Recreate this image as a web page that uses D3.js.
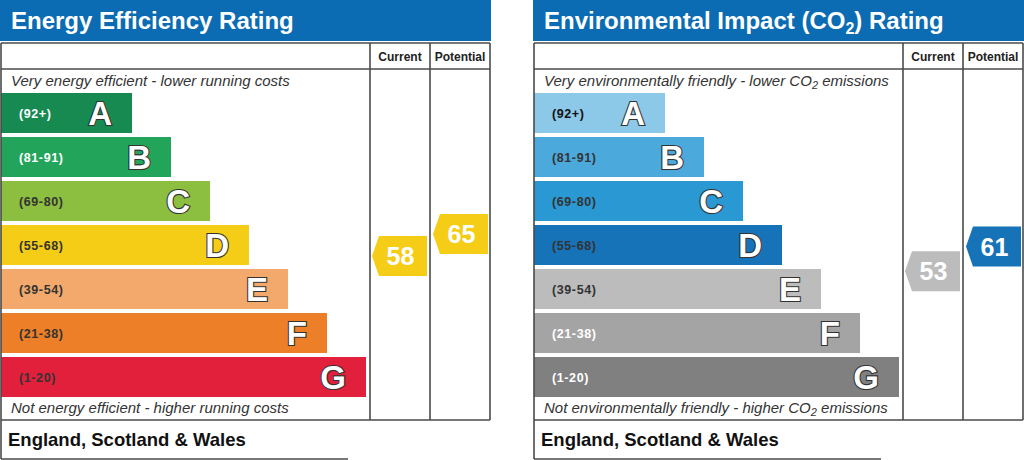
<!DOCTYPE html>
<html>
<head>
<meta charset="utf-8">
<script src="https://cdn.jsdelivr.net/npm/d3@7"></script>
<style>
  body { margin: 0; background: #fff; }
  svg { display: block; font-family: "Liberation Sans", Arial, sans-serif; }
</style>
</head>
<body>
<div id="container"></div>
<script>
// rating bands, top to bottom
const bandLetters = ["A", "B", "C", "D", "E", "F", "G"];
const bandRanges = ["(92+)", "(81-91)", "(69-80)", "(55-68)", "(39-54)", "(21-38)", "(1-20)"];
const bandMin = [92, 81, 69, 55, 39, 21, 1];
const bandTop = 100;

// the two ratings shown in each chart
const energyRatings = [58, 65];   // current, potential
const co2Ratings = [53, 61];      // current, potential
const columnNames = ["Current", "Potential"];

const energyColors = ["#168a51", "#22a55a", "#8cbe3f", "#f5cd17", "#f2a96b", "#ec7f28", "#e2203c"];
const energyLabelColors = ["#fff", "#fff", "#333", "#333", "#333", "#333", "#333"];
const co2Colors = ["#8cc8e8", "#4ba9dc", "#2a98d2", "#1773b8", "#bcbcbc", "#a4a4a4", "#808080"];
const co2LabelColors = ["#111", "#333", "#333", "#333", "#333", "#fff", "#fff"];

window.onload = () => {
    const svg = d3.select("#container").append("svg")
        .attr("width", 1024)
        .attr("height", 460);

    const lineColor = "#4a4a4a";
    const headerBlue = "#0b6cb4";

    // vertical band scale shared by both charts
    const y = d3.scaleBand()
        .domain(bandLetters)
        .range([91, 399])
        .paddingInner(4 / 44)
        .paddingOuter(2 / 44);

    // bar length grows one step per band
    const barLen = d3.scaleLinear()
        .domain([0, bandLetters.length - 1])
        .range([131, 365]);

    // rating value -> vertical position (piecewise, band by band)
    const valueDomain = [bandTop + 0.5].concat(bandMin.map(d => d - 0.5));
    const valueRange = bandLetters.map(l => y(l) - 2).concat([y(bandLetters[bandLetters.length - 1]) + y.bandwidth() + 2]);
    const valueY = d3.scaleLinear().domain(valueDomain).range(valueRange);

    function bandIndex(v) {
        return bandMin.findIndex(m => v >= m);
    }

    function drawChart(ox, cfg) {
        const g = svg.append("g").attr("transform", `translate(${ox},0)`);
        const left = 1, right = 490, colA = 370, colB = 430, top = 43, headRow = 69, bottom = 420;

        // title band
        g.append("rect")
            .attr("x", 0).attr("y", 0)
            .attr("width", 491).attr("height", 41)
            .attr("fill", headerBlue);

        const title = g.append("text")
            .attr("x", 11).attr("y", 29)
            .attr("fill", "#fff")
            .attr("font-size", 24)
            .attr("font-weight", "bold");
        cfg.title.forEach(part => {
            if (part.sub) {
                title.append("tspan").attr("font-size", 16).attr("dy", 5).text(part.text);
            } else {
                title.append("tspan").attr("dy", part.after ? -5 : 0).text(part.text);
            }
        });

        // bars
        const bars = g.selectAll(".band").data(bandLetters).enter().append("g").attr("class", "band");

        bars.append("rect")
            .attr("x", left)
            .attr("y", d => y(d))
            .attr("width", (d, i) => barLen(i))
            .attr("height", y.bandwidth())
            .attr("fill", (d, i) => cfg.colors[i]);

        bars.append("text")
            .attr("x", 19)
            .attr("y", d => y(d) + y.bandwidth() / 2 + 4.5)
            .attr("font-size", 12.5)
            .attr("font-weight", "bold")
            .attr("letter-spacing", 0.6)
            .attr("fill", (d, i) => cfg.labelColors[i])
            .text((d, i) => bandRanges[i]);

        bars.append("text")
            .attr("x", (d, i) => left + barLen(i) - 20)
            .attr("y", d => y(d) + y.bandwidth() / 2 + 12)
            .attr("text-anchor", "end")
            .attr("font-size", 33)
            .attr("font-weight", "bold")
            .attr("fill", "#fff")
            .attr("stroke", "#333")
            .attr("stroke-width", 2.2)
            .attr("paint-order", "stroke")
            .text(d => d);

        // italic captions
        const topNote = g.append("text")
            .attr("x", 11).attr("y", 86)
            .attr("font-size", 15).attr("font-style", "italic").attr("fill", "#333");
        const bottomNote = g.append("text")
            .attr("x", 11).attr("y", 413)
            .attr("font-size", 15).attr("font-style", "italic").attr("fill", "#333");
        [[topNote, cfg.topNote], [bottomNote, cfg.bottomNote]].forEach(([t, parts]) => {
            parts.forEach(part => {
                if (part.sub) {
                    t.append("tspan").attr("font-size", 11).attr("dy", 3).text(part.text);
                } else {
                    t.append("tspan").attr("dy", part.after ? -3 : 0).text(part.text);
                }
            });
        });

        // table frame
        const frame = [
            [left, top, right, top],
            [left, headRow, right, headRow],
            [left, top, left, 459],
            [right, top, right, bottom],
            [colA, top, colA, bottom],
            [colB, top, colB, bottom],
            [left, bottom, right, bottom],
            [left, 459, 348, 459]
        ];
        g.selectAll(".frame").data(frame).enter().append("line")
            .attr("x1", d => d[0]).attr("y1", d => d[1])
            .attr("x2", d => d[2]).attr("y2", d => d[3])
            .attr("stroke", lineColor)
            .attr("stroke-width", 1.6);

        const cols = [colA, colB];
        g.selectAll(".colname").data(columnNames).enter().append("text")
            .attr("x", (d, i) => cols[i] + 30)
            .attr("y", 61)
            .attr("text-anchor", "middle")
            .attr("font-size", 12)
            .attr("font-weight", "bold")
            .attr("fill", "#222")
            .text(d => d);

        // rating arrows
        const aw = 55, ah = 40, tip = 7;
        const arrowLine = d3.line();
        const arrows = g.selectAll(".arrow").data(cfg.ratings).enter().append("g")
            .attr("transform", (d, i) => `translate(${cols[i] + 2 + i},${valueY(d) - ah / 2})`);

        arrows.append("path")
            .attr("d", arrowLine([[0, ah / 2], [tip, 0], [aw, 0], [aw, ah], [tip, ah]]) + "Z")
            .attr("fill", d => cfg.colors[bandIndex(d)]);

        arrows.append("text")
            .attr("x", aw / 2 + 1)
            .attr("y", ah / 2 + 9)
            .attr("text-anchor", "middle")
            .attr("font-size", 25)
            .attr("font-weight", "bold")
            .attr("fill", "#fff")
            .text(d => d);

        // region footer
        g.append("text")
            .attr("x", 8).attr("y", 446)
            .attr("font-size", 18.5)
            .attr("font-weight", "bold")
            .attr("fill", "#111")
            .text("England, Scotland & Wales");
    }

    drawChart(0, {
        title: [{ text: "Energy Efficiency Rating" }],
        topNote: [{ text: "Very energy efficient - lower running costs" }],
        bottomNote: [{ text: "Not energy efficient - higher running costs" }],
        colors: energyColors,
        labelColors: energyLabelColors,
        ratings: energyRatings
    });

    drawChart(533, {
        title: [{ text: "Environmental Impact (CO" }, { text: "2", sub: true }, { text: ") Rating", after: true }],
        topNote: [{ text: "Very environmentally friendly - lower CO" }, { text: "2", sub: true }, { text: " emissions", after: true }],
        bottomNote: [{ text: "Not environmentally friendly - higher CO" }, { text: "2", sub: true }, { text: " emissions", after: true }],
        colors: co2Colors,
        labelColors: co2LabelColors,
        ratings: co2Ratings
    });
};
</script>
</body>
</html>
